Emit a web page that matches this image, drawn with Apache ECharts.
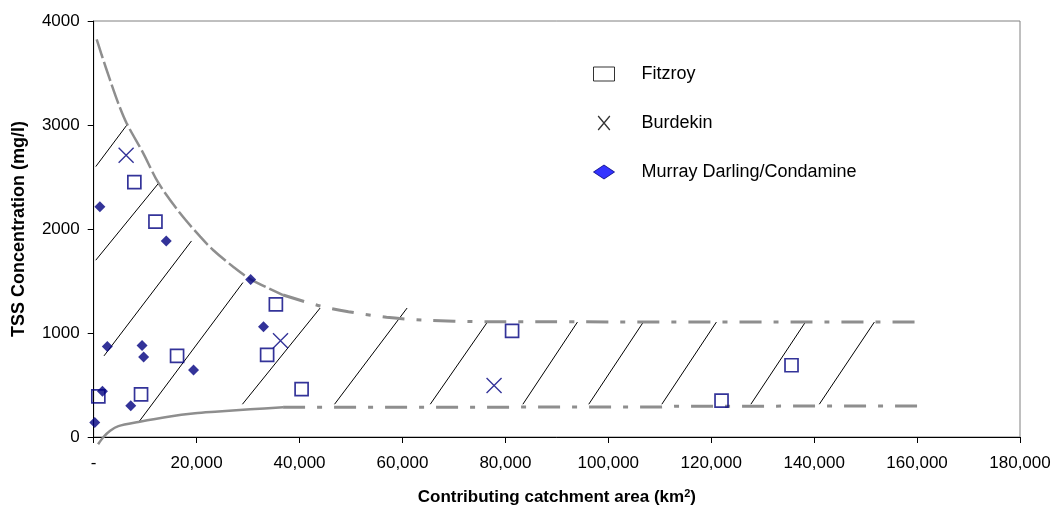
<!DOCTYPE html>
<html><head><meta charset="utf-8">
<script src="https://cdn.jsdelivr.net/npm/echarts@6/dist/echarts.min.js"></script>
<style>html,body{margin:0;padding:0;background:#fff}#c{width:1056px;height:511px}</style>
</head><body><div id="c"></div>
<script>
// ---- data ----
const xTickValues = [0, 20000, 40000, 60000, 80000, 100000, 120000, 140000, 160000, 180000];
const xTickLabels = ['-', '20,000', '40,000', '60,000', '80,000', '100,000', '120,000', '140,000', '160,000', '180,000'];
const yTickValues = [0, 1000, 2000, 3000, 4000];
const yTickLabels = ['0', '1000', '2000', '3000', '4000'];

const seriesNames = ['Fitzroy', 'Burdekin', 'Murray Darling/Condamine'];

const fitzroyX = [7900, 12000, 900, 9200, 16200, 35400, 33700, 40400, 81300, 122000, 135600];
const fitzroyY = [2450, 2070, 390, 410, 780, 1275, 790, 460, 1020, 350, 690];

const burdekinX = [6300, 36300, 77800];
const burdekinY = [2710, 925, 495];

const murrayX = [1200, 14100, 30500, 33000, 2650, 9400, 9700, 19400, 1700, 7200, 200];
const murrayY = [2215, 1885, 1515, 1060, 870, 880, 770, 645, 440, 300, 140];

// envelope: upper curve (curved part, then flat part)
const upperCurveX = [580, 1550, 3170, 4780, 6410, 9640, 12550, 16800, 20700, 23200, 27100, 30500, 36800];
const upperCurveY = [3824, 3673, 3433, 3208, 3016, 2728, 2445, 2151, 1926, 1798, 1637, 1516, 1365];
const upperFlatX = [36800, 44000, 49500, 56900, 63700, 76400, 160000];
const upperFlatY = [1365, 1260, 1205, 1151, 1125, 1109, 1105];
// envelope: lower curve
const lowerCurveX = [850, 1900, 3200, 4800, 8700, 14500, 19700, 23600, 30400, 36800];
const lowerCurveY = [-70, 0, 60, 105, 145, 195, 228, 243, 266, 286];
const lowerFlatX = [36800, 110000, 113000, 160000];
const lowerFlatY = [286, 288, 296, 298];

// hatch lines (start and end points)
const hatchX1 = [400, 400, 2000, 8700, 28900, 46800, 65400, 83400, 96200, 110400, 127700, 141000];
const hatchY1 = [2600, 1700, 780, 140, 315, 315, 315, 315, 315, 315, 315, 315];
const hatchX2 = [6600, 12600, 19000, 29000, 44000, 60900, 76500, 94000, 106800, 121000, 138300, 151700];
const hatchY2 = [3010, 2440, 1885, 1485, 1240, 1240, 1105, 1105, 1105, 1105, 1105, 1105];

// ---- chart ----
const zip = (xs, ys) => xs.map((x, i) => [x, ys[i]]);
const FONT = '"Liberation Sans", Arial, sans-serif';
const NAVY = '#000080';
const GREY = '#8e8e8e';

const series = [];
hatchX1.forEach((x, i) => {
  series.push({
    type: 'line', data: [[hatchX1[i], hatchY1[i]], [hatchX2[i], hatchY2[i]]],
    symbol: 'none', silent: true, z: 1,
    lineStyle: { color: '#000', width: 1 }
  });
});
series.push({
  type: 'line', data: zip(upperCurveX, upperCurveY), smooth: 0.3, symbol: 'none', silent: true, z: 2,
  lineStyle: { color: GREY, width: 2.5, type: [20, 4] }
});
series.push({
  type: 'line', data: zip(upperFlatX, upperFlatY), smooth: 0.3, symbol: 'none', silent: true, z: 2,
  lineStyle: { color: GREY, width: 3, type: [22, 12, 5, 12] }
});
series.push({
  type: 'line', data: zip(lowerCurveX, lowerCurveY), smooth: 0.3, symbol: 'none', silent: true, z: 2, clip: false,
  lineStyle: { color: GREY, width: 2.5 }
});
series.push({
  type: 'line', data: zip(lowerFlatX, lowerFlatY), symbol: 'none', silent: true, z: 2,
  lineStyle: { color: GREY, width: 3, type: [22, 12, 5, 12] }
});
series.push({
  name: seriesNames[0], type: 'scatter', data: zip(fitzroyX, fitzroyY), z: 5,
  symbol: 'rect', symbolSize: 13,
  itemStyle: { color: 'rgba(255,255,255,0)', borderColor: NAVY, borderWidth: 1.7 }
});
series.push({
  name: seriesNames[1], type: 'scatter', data: zip(burdekinX, burdekinY), z: 5,
  symbol: 'path://M0,0L10,10M10,0L0,10', symbolSize: 15,
  itemStyle: { color: 'rgba(255,255,255,0)', borderColor: NAVY, borderWidth: 1.4 }
});
series.push({
  name: seriesNames[2], type: 'scatter', data: zip(murrayX, murrayY), z: 5,
  symbol: 'diamond', symbolSize: 11,
  itemStyle: { color: NAVY }
});

const option = {
  animation: false,
  backgroundColor: '#fff',
  textStyle: { fontFamily: FONT },
  grid: { left: 93.7, right: 36, top: 21, bottom: 74, show: true, borderColor: '#808080', borderWidth: 1, backgroundColor: 'transparent' },
  legend: {
    orient: 'vertical', left: 588, top: 60, itemGap: 31, itemWidth: 21, itemHeight: 14,
    selectedMode: false,
    textStyle: { fontSize: 18, color: '#000', fontFamily: FONT, padding: [0, 0, 0, 22] },
    data: [
      { name: seriesNames[0], icon: 'rect', itemStyle: { color: '#fff', borderColor: '#000', borderWidth: 1 } },
      { name: seriesNames[1], icon: 'path://M0,0L10,12M10,0L0,12', itemStyle: { color: 'rgba(255,255,255,0)', borderColor: '#000', borderWidth: 1.3 } },
      { name: seriesNames[2], icon: 'diamond', itemStyle: { color: '#0000ff', borderColor: NAVY, borderWidth: 1 } }
    ]
  },
  xAxis: {
    type: 'value', min: 0, max: 180000, interval: 20000,
    name: 'Contributing catchment area (km{sup|2})', nameLocation: 'middle', nameGap: 51,
    nameTextStyle: { fontSize: 17, fontWeight: 'bold', color: '#000', fontFamily: FONT,
      rich: { sup: { fontSize: 11, fontWeight: 'bold', color: '#000', fontFamily: FONT, verticalAlign: 'top', padding: [0, 0, 8, 0] } } },
    axisLine: { show: true, onZero: false, lineStyle: { color: '#000', width: 1 } },
    axisTick: { show: true, inside: false, length: 6, lineStyle: { color: '#000' } },
    axisLabel: { fontSize: 17, color: '#000', margin: 18, fontFamily: FONT,
      formatter: v => { const i = xTickValues.indexOf(v); return i >= 0 ? xTickLabels[i] : ''; } },
    splitLine: { show: false }
  },
  yAxis: {
    type: 'value', min: 0, max: 4000, interval: 1000,
    name: 'TSS Concentration (mg/l)', nameLocation: 'middle', nameGap: 66, nameRotate: 90,
    nameTextStyle: { fontSize: 18, fontWeight: 'bold', color: '#000', fontFamily: FONT },
    axisLine: { show: true, onZero: false, lineStyle: { color: '#000', width: 1 } },
    axisTick: { show: true, inside: false, length: 6, lineStyle: { color: '#000' } },
    axisLabel: { fontSize: 17, color: '#000', margin: 14, fontFamily: FONT,
      formatter: v => { const i = yTickValues.indexOf(v); return i >= 0 ? yTickLabels[i] : ''; } },
    splitLine: { show: false }
  },
  series
};
const chart = echarts.init(document.getElementById('c'), null, { renderer: 'canvas' });
chart.setOption(option);
</script>
</body></html>
